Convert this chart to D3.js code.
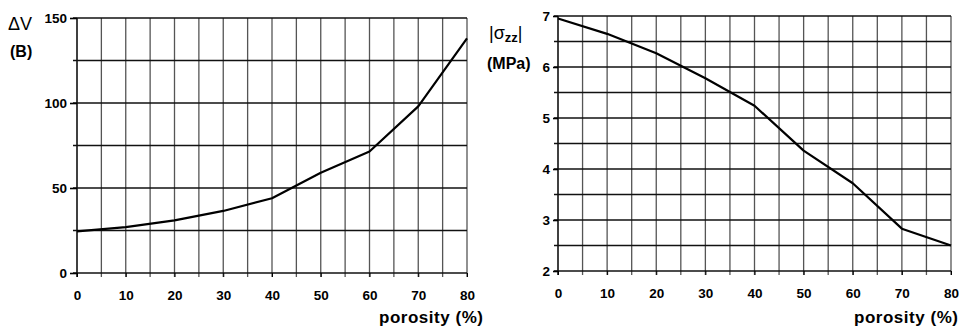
<!DOCTYPE html>
<html>
<head>
<meta charset="utf-8">
<script src="https://cdn.jsdelivr.net/npm/d3@7"></script>
<style>
  html, body { margin: 0; padding: 0; background: #fff; }
  svg { display: block; }
  text { font-family: Arial, "Liberation Sans", sans-serif; fill: #000; }
</style>
</head>
<body>
<svg id="chart" width="959" height="326"></svg>
<script>
// Porosity (%) sampled every 10 %
const porosity = [0, 10, 20, 30, 40, 50, 60, 70, 80];
// Volume change ΔV (B) versus porosity
const deltaV = [24.5, 27, 31, 36.5, 44, 59, 71.5, 98, 138];
// Axial stress magnitude |σzz| (MPa) versus porosity
const sigmaZZ = [6.95, 6.65, 6.27, 5.78, 5.24, 4.36, 3.72, 2.83, 2.5];

// Grid and tick values
const xGrid = d3.range(0, 81, 5);
const xLabels = d3.range(0, 81, 10);
const leftYGrid = d3.range(0, 151, 25);
const leftYLabels = [0, 50, 100, 150];
const rightYGrid = d3.range(2, 7.01, 0.5);
const rightYLabels = [2, 3, 4, 5, 6, 7];

const svg = d3.select("#chart");

function panel(opts) {
  const { x, y, yGrid, yLabels, values, yTickSize, titleEnd } = opts;
  const g = svg.append("g");
  const [x0, x1] = x.range();
  const [yb, yt] = y.range();

  // vertical grid lines (extend a little below the baseline as ticks)
  g.append("g").selectAll("line").data(xGrid).join("line")
    .attr("x1", d => x(d)).attr("x2", d => x(d))
    .attr("y1", yt).attr("y2", yb + 4)
    .attr("stroke", d => d === 0 ? "#000" : "#555")
    .attr("stroke-width", d => d === 0 ? 1.5 : 1.3);

  // horizontal grid lines (short ticks to the left of the axis)
  g.append("g").selectAll("line").data(yGrid).join("line")
    .attr("x1", x0 - 4).attr("x2", x1)
    .attr("y1", d => y(d)).attr("y2", d => y(d))
    .attr("stroke", "#111")
    .attr("stroke-width", 1.6);

  // x axis labels
  const xa = g.append("g")
    .attr("transform", `translate(0,${yb})`)
    .call(d3.axisBottom(x).tickValues(xLabels).tickFormat(d3.format("d"))
      .tickSize(4).tickPadding(13).tickSizeOuter(0));
  xa.select(".domain").remove();
  xa.selectAll("line").attr("stroke", "#000");
  xa.selectAll("text").attr("font-size", 13.5).attr("font-weight", "bold");

  // y axis labels
  const ya = g.append("g")
    .attr("transform", `translate(${x0},0)`)
    .call(d3.axisLeft(y).tickValues(yLabels).tickFormat(d3.format("d"))
      .tickSize(yTickSize).tickPadding(3).tickSizeOuter(0));
  ya.select(".domain").remove();
  ya.selectAll("line").attr("stroke", "#000").attr("stroke-width", 1.6);
  ya.selectAll("text").attr("font-size", 13.5).attr("font-weight", "bold");

  // data curve
  const line = d3.line().x((d, i) => x(porosity[i])).y(d => y(d));
  g.append("path")
    .datum(values)
    .attr("d", line)
    .attr("fill", "none")
    .attr("stroke", "#000")
    .attr("stroke-width", 2.2)
    .attr("stroke-linejoin", "round");

  // x axis title
  g.append("text")
    .attr("x", titleEnd).attr("y", 323)
    .attr("text-anchor", "end")
    .attr("font-size", 17).attr("font-weight", "bold")
    .attr("textLength", 104).attr("lengthAdjust", "spacing")
    .text("porosity (%)");
  return g;
}

// Left panel: ΔV
const xL = d3.scaleLinear().domain([0, 80]).range([77, 467]);
const yL = d3.scaleLinear().domain([0, 150]).range([273, 18]);
panel({ x: xL, y: yL, yGrid: leftYGrid, yLabels: leftYLabels, values: deltaV, yTickSize: 7, titleEnd: 483 });

svg.append("text").attr("x", 8).attr("y", 30)
  .attr("font-size", 18)
  .text("ΔV");
svg.append("text").attr("x", 10).attr("y", 57)
  .attr("font-size", 16).attr("font-weight", "bold")
  .text("(B)");

// Right panel: |σzz|
const xR = d3.scaleLinear().domain([0, 80]).range([558, 951]);
const yR = d3.scaleLinear().domain([2, 7]).range([271, 16]);
panel({ x: xR, y: yR, yGrid: rightYGrid, yLabels: rightYLabels, values: sigmaZZ, yTickSize: 5, titleEnd: 958 });

const sig = svg.append("text").attr("x", 489).attr("y", 39).attr("font-size", 18);
sig.append("tspan").text("|σ");
sig.append("tspan").attr("dy", 3).attr("font-size", 13).attr("font-weight", "bold").text("zz");
sig.append("tspan").attr("dy", -3).text("|");
svg.append("text").attr("x", 487).attr("y", 69)
  .attr("font-size", 16).attr("font-weight", "bold")
  .text("(MPa)");
</script>
</body>
</html>
